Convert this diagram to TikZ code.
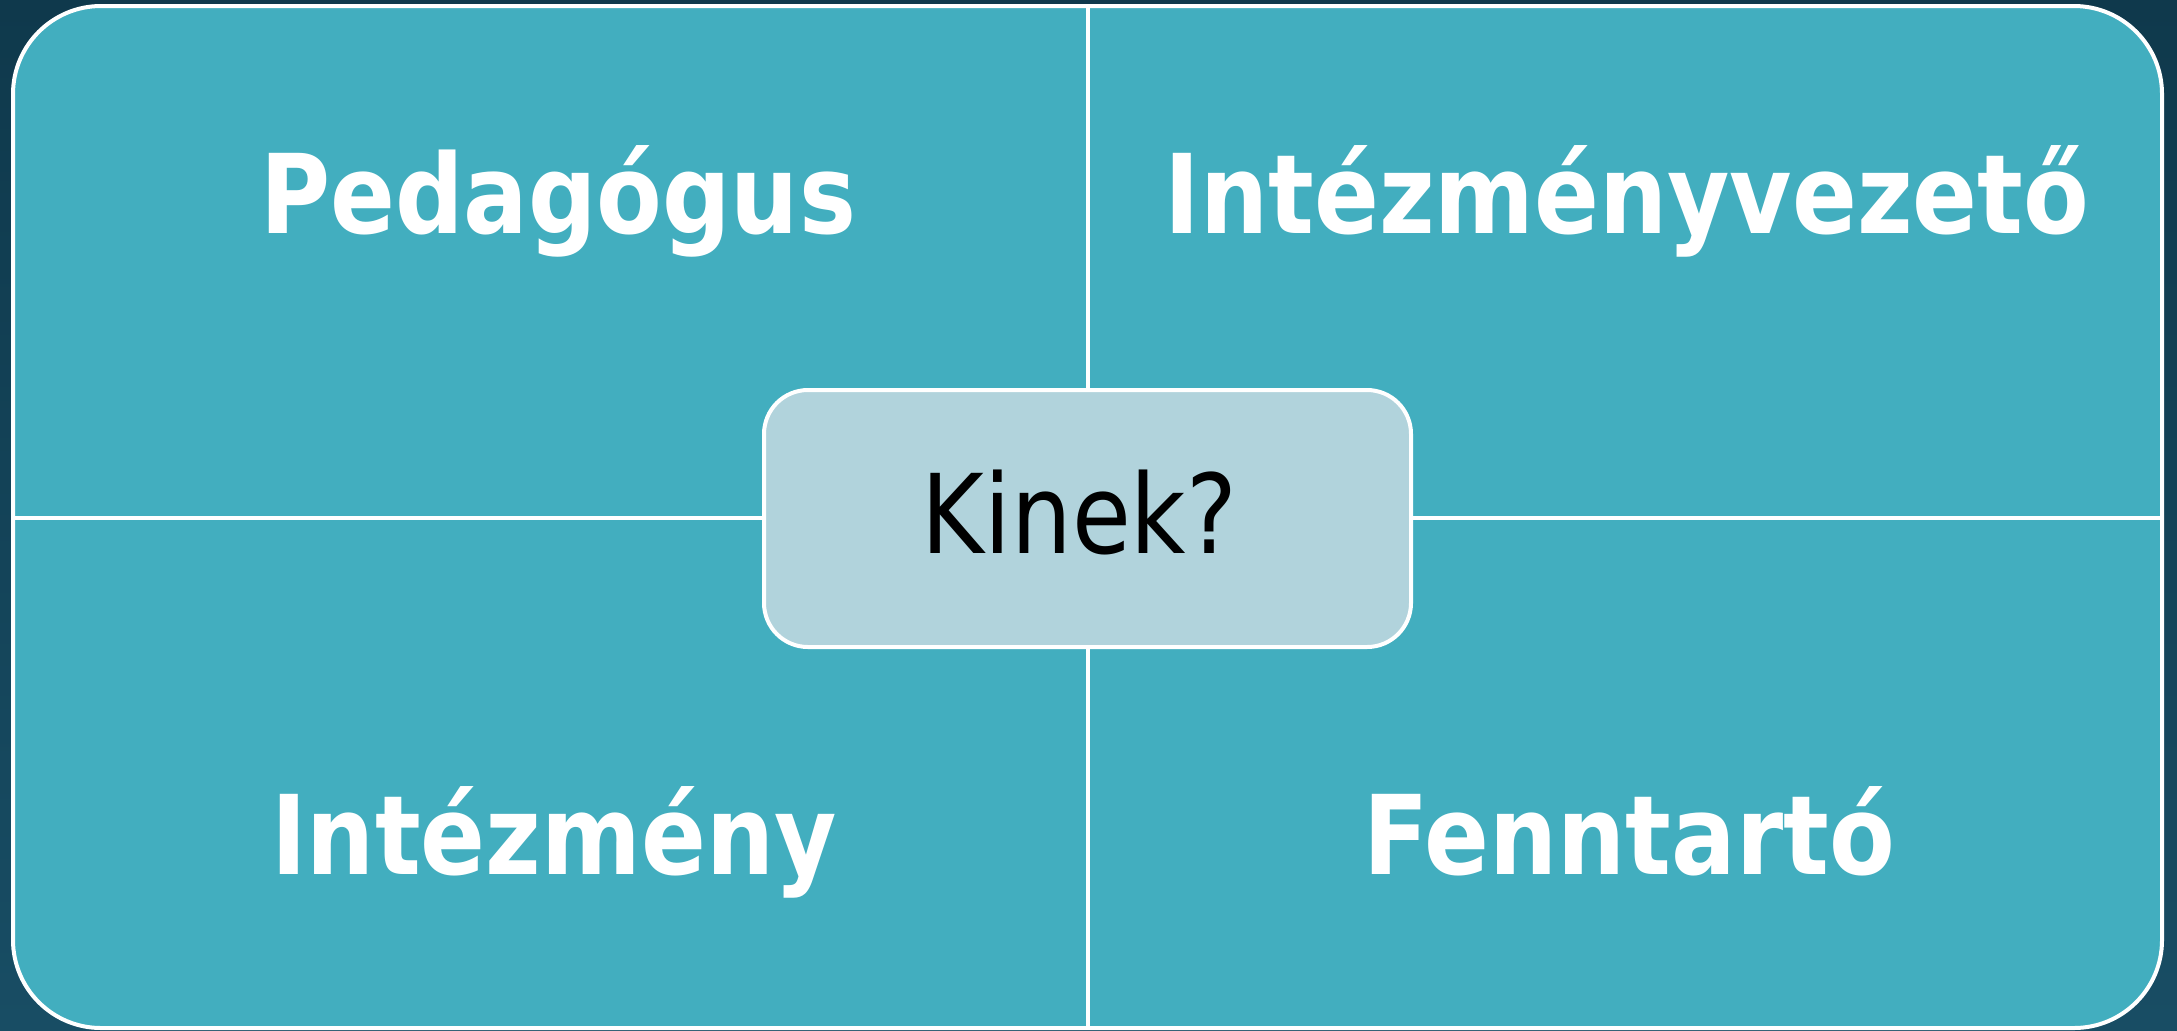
\documentclass[tikz,border=0pt]{standalone}
\usepackage{fontspec}
\newfontfamily\labelfont[FakeStretch=0.87]{DejaVu Sans}
\definecolor{bgtop}{HTML}{0F394C}
\definecolor{bgbot}{HTML}{184D64}
\definecolor{quad}{HTML}{42AEBF}
\definecolor{centerfill}{HTML}{B1D3DC}
\tikzset{
  quadlabel/.style={anchor=base, text=white, font=\labelfont\fontsize{55}{60}\selectfont\bfseries, inner sep=0pt},
  centerbox/.style={draw=white, line width=2pt, fill=centerfill, rounded corners=22pt,
    minimum width=323.5pt, minimum height=128.5pt, inner sep=0pt},
  frame/.style={draw=white, line width=2pt},
}
\begin{document}
\begin{tikzpicture}[x=0.5pt, y=-0.5pt]
\useasboundingbox (0,0) rectangle (2177,1030);
\shade[top color=bgtop, bottom color=bgbot] (0,0) rectangle (2177,1030);
\path[frame, fill=quad, rounded corners=44pt] (13,6) rectangle (2162,1028);
\draw[frame] (1087.5,6) -- (1087.5,1028);
\draw[frame] (13,518) -- (2162,518);
\node[quadlabel] (ped) at (558,233) {Pedagógus};
\node[quadlabel] (ivez) at (1627,233) {Intézményvezető};
\node[quadlabel] (int) at (554,874) {Intézmény};
\node[quadlabel] (fen) at (1629,874) {Fenntartó};
\node[centerbox] (c) at (1087.5,518.5) {};
\node[anchor=base, inner sep=0pt, font=\labelfont\fontsize{55}{60}\selectfont] (kin) at (1079.5,553) {Kinek?};
\end{tikzpicture}
\end{document}
